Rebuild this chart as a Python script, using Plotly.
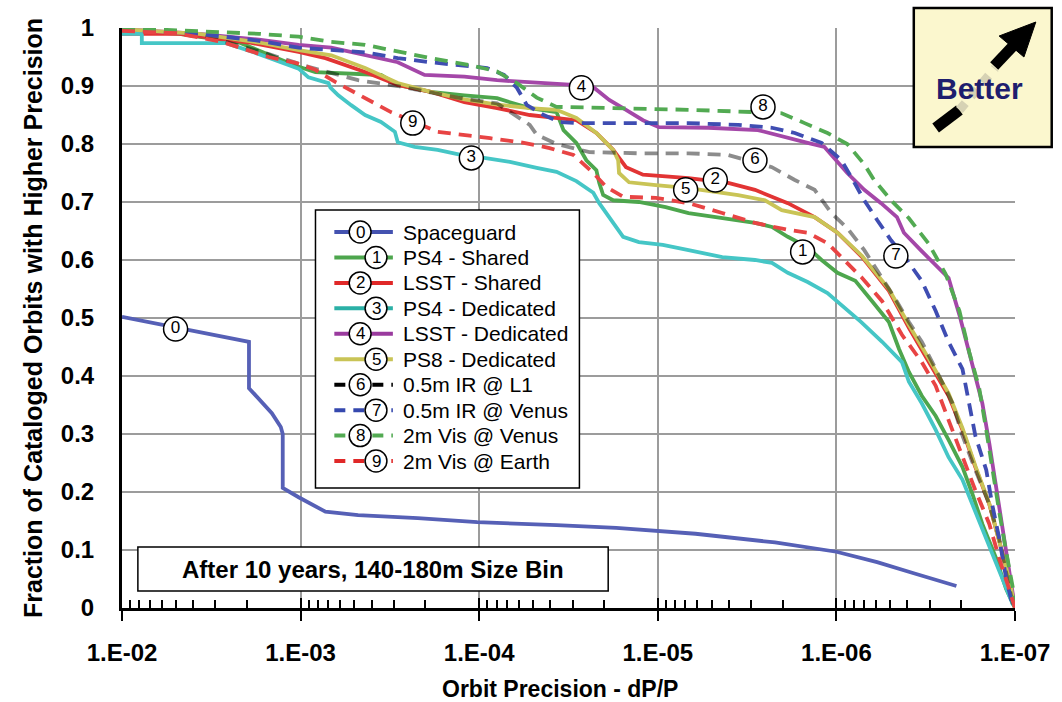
import plotly.graph_objects as go

FONT = "Liberation Sans, Arial, sans-serif"

# ---------------- data (x given as log10 of dP/P, y = fraction) ----------------
s0_lx = [-2.0, -2.228, -2.45, -2.711, -2.711, -2.839, -2.889, -2.9, -2.9, -2.989, -3.139, -3.322,
         -3.656, -3.989, -4.433, -4.767, -5.211, -5.656, -6.0, -6.228, -6.433, -6.672]
s0_y = [0.502, 0.488, 0.476, 0.459, 0.379, 0.336, 0.312, 0.300, 0.207, 0.191, 0.166, 0.160,
        0.155, 0.148, 0.143, 0.138, 0.128, 0.113, 0.097, 0.079, 0.060, 0.038]

s1_lx = [-2.0, -2.322, -2.656, -2.972, -3.083, -3.45, -3.544, -3.728, -3.917, -4.1, -4.172, -4.283,
         -4.433, -4.472, -4.544, -4.6, -4.656, -4.672, -4.694, -4.75, -4.894, -5.044, -5.172, -5.361,
         -5.544, -5.639, -5.728, -5.839, -5.917, -6.006, -6.106, -6.2, -6.294, -6.35, -6.406, -6.478,
         -6.556, -6.628, -6.706, -6.761, -6.817, -6.894, -6.95, -7.0]
s1_y = [0.995, 0.99, 0.975, 0.935, 0.924, 0.919, 0.902, 0.89, 0.884, 0.879, 0.872, 0.862,
        0.855, 0.824, 0.802, 0.772, 0.755, 0.733, 0.712, 0.703, 0.70, 0.691, 0.681, 0.672,
        0.664, 0.657, 0.64, 0.622, 0.60, 0.578, 0.564, 0.529, 0.493, 0.447, 0.407, 0.366,
        0.331, 0.29, 0.243, 0.197, 0.145, 0.086, 0.033, 0.0]

s2_lx = [-2.0, -2.322, -2.711, -2.989, -3.139, -3.361, -3.544, -3.728, -3.917, -4.1, -4.283, -4.433,
         -4.544, -4.656, -4.75, -4.822, -4.917, -5.172, -5.394, -5.544, -5.728, -5.878, -6.006, -6.144,
         -6.294, -6.406, -6.517, -6.628, -6.706, -6.778, -6.856, -6.911, -6.967, -7.0]
s2_y = [0.99, 0.99, 0.975, 0.959, 0.948, 0.924, 0.902, 0.89, 0.872, 0.862, 0.85, 0.845,
        0.841, 0.819, 0.79, 0.76, 0.747, 0.741, 0.733, 0.721, 0.698, 0.674, 0.647, 0.605,
        0.547, 0.483, 0.424, 0.366, 0.307, 0.243, 0.179, 0.116, 0.052, 0.0]

s3_lx = [-2.0, -2.111, -2.111, -2.583, -2.767, -2.989, -3.044, -3.156, -3.167, -3.211, -3.283, -3.361,
         -3.45, -3.528, -3.544, -3.639, -3.767, -3.861, -3.95, -4.028, -4.172, -4.322, -4.433, -4.544,
         -4.639, -4.672, -4.728, -4.806, -4.894, -5.028, -5.172, -5.361, -5.544, -5.639, -5.728, -5.839,
         -5.95, -6.044, -6.139, -6.256, -6.367, -6.406, -6.478, -6.556, -6.628, -6.706, -6.778, -6.856,
         -6.928, -6.989]
s3_y = [0.99, 0.99, 0.974, 0.974, 0.955, 0.93, 0.915, 0.905, 0.897, 0.884, 0.867, 0.85,
        0.838, 0.821, 0.803, 0.795, 0.79, 0.784, 0.778, 0.776, 0.769, 0.759, 0.752, 0.736,
        0.716, 0.698, 0.674, 0.64, 0.631, 0.626, 0.617, 0.605, 0.60, 0.595, 0.578, 0.562,
        0.543, 0.519, 0.493, 0.459, 0.424, 0.39, 0.353, 0.307, 0.26, 0.221, 0.167, 0.109,
        0.052, 0.005]

s4_lx = [-2.0, -2.433, -2.767, -2.989, -3.172, -3.361, -3.544, -3.694, -3.917, -4.1, -4.283, -4.528,
         -4.639, -4.728, -4.822, -4.917, -5.006, -5.283, -5.561, -5.656, -5.839, -5.933, -5.989, -6.061,
         -6.156, -6.25, -6.339, -6.378, -6.472, -6.544, -6.628, -6.689, -6.761, -6.817, -6.856, -6.894,
         -6.928, -6.967, -7.0]
s4_y = [0.998, 0.99, 0.98, 0.971, 0.966, 0.953, 0.941, 0.919, 0.916, 0.91, 0.907, 0.902,
        0.898, 0.876, 0.859, 0.841, 0.829, 0.828, 0.824, 0.816, 0.802, 0.795, 0.775, 0.75,
        0.721, 0.698, 0.674, 0.647, 0.617, 0.595, 0.569, 0.505, 0.417, 0.353, 0.284, 0.209,
        0.145, 0.074, 0.0]

s5_lx = [-2.0, -2.433, -2.767, -2.989, -3.172, -3.361, -3.544, -3.728, -3.917, -4.1, -4.283, -4.433,
         -4.544, -4.656, -4.75, -4.778, -4.783, -4.839, -4.989, -5.172, -5.45, -5.6, -5.694, -5.878,
         -6.006, -6.144, -6.294, -6.406, -6.517, -6.628, -6.706, -6.778, -6.856, -6.911, -6.967, -7.0]
s5_y = [0.998, 0.99, 0.975, 0.962, 0.953, 0.931, 0.905, 0.89, 0.877, 0.868, 0.862, 0.859,
        0.845, 0.819, 0.79, 0.772, 0.75, 0.734, 0.729, 0.724, 0.712, 0.703, 0.686, 0.674,
        0.647, 0.607, 0.55, 0.488, 0.43, 0.37, 0.31, 0.245, 0.18, 0.118, 0.05, 0.0]

s6_lx = [-2.0, -2.433, -2.583, -2.822, -3.044, -3.322, -3.544, -3.878, -4.1, -4.172, -4.283, -4.322,
         -4.433, -4.617, -4.894, -5.172, -5.394, -5.639, -5.767, -5.878, -5.972, -6.061, -6.156, -6.256,
         -6.328, -6.406, -6.478, -6.556, -6.65, -6.706, -6.778, -6.856, -6.911, -6.95, -6.989]
s6_y = [0.998, 0.99, 0.976, 0.955, 0.933, 0.91, 0.90, 0.88, 0.87, 0.855, 0.833, 0.816,
        0.80, 0.786, 0.784, 0.784, 0.781, 0.76, 0.738, 0.721, 0.681, 0.655, 0.617, 0.569,
        0.534, 0.493, 0.459, 0.412, 0.353, 0.297, 0.238, 0.179, 0.121, 0.062, 0.005]

s7_lx = [-2.0, -2.433, -2.767, -2.989, -3.361, -3.544, -3.728, -3.917, -4.044, -4.139, -4.211, -4.267,
         -4.361, -4.45, -4.544, -5.172, -5.45, -5.639, -5.767, -5.917, -6.028, -6.083, -6.156, -6.228,
         -6.306, -6.383, -6.478, -6.556, -6.628, -6.706, -6.744, -6.778, -6.839, -6.872, -6.911, -6.95,
         -6.989]
s7_y = [0.998, 0.99, 0.978, 0.966, 0.958, 0.948, 0.941, 0.936, 0.931, 0.919, 0.897, 0.867,
        0.85, 0.838, 0.836, 0.836, 0.833, 0.828, 0.819, 0.802, 0.772, 0.743, 0.703, 0.669,
        0.634, 0.605, 0.564, 0.512, 0.459, 0.412, 0.353, 0.297, 0.238, 0.179, 0.121, 0.052,
        0.0]

s8_lx = [-2.0, -2.433, -2.767, -2.989, -3.172, -3.361, -3.544, -3.728, -3.95, -4.1, -4.211, -4.322,
         -4.433, -4.806, -5.172, -5.544, -5.694, -5.822, -5.95, -6.061, -6.156, -6.211, -6.306, -6.406,
         -6.517, -6.611, -6.689, -6.744, -6.8, -6.839, -6.872, -6.911, -6.95, -6.989, -7.0]
s8_y = [1.0, 0.995, 0.99, 0.985, 0.976, 0.971, 0.959, 0.948, 0.936, 0.925, 0.905, 0.88,
        0.864, 0.862, 0.859, 0.855, 0.853, 0.836, 0.819, 0.80, 0.765, 0.738, 0.703, 0.672,
        0.628, 0.576, 0.512, 0.441, 0.378, 0.307, 0.238, 0.167, 0.098, 0.033, 0.0]

s9_lx = [-2.0, -2.306, -2.561, -2.711, -2.822, -2.972, -3.083, -3.194, -3.306, -3.417, -3.506, -3.767,
         -3.917, -4.061, -4.25, -4.394, -4.528, -4.639, -4.711, -4.806, -4.989, -5.172, -5.361, -5.544,
         -5.728, -5.839, -5.95, -6.028, -6.144, -6.256, -6.367, -6.478, -6.556, -6.628, -6.706, -6.778,
         -6.856, -6.911, -6.967, -7.0]
s9_y = [0.995, 0.991, 0.976, 0.962, 0.95, 0.94, 0.928, 0.907, 0.888, 0.871, 0.855, 0.821,
        0.816, 0.81, 0.802, 0.793, 0.781, 0.75, 0.726, 0.709, 0.707, 0.698, 0.681, 0.664,
        0.652, 0.647, 0.629, 0.605, 0.569, 0.529, 0.471, 0.424, 0.383, 0.324, 0.26, 0.203,
        0.145, 0.086, 0.033, 0.0]

series_names = ["Spaceguard", "PS4 - Shared", "LSST - Shared", "PS4 - Dedicated", "LSST - Dedicated",
                "PS8 - Dedicated", "0.5m IR @ L1", "0.5m IR @ Venus", "2m Vis @ Venus", "2m Vis @ Earth"]
series_lx = [s0_lx, s1_lx, s2_lx, s3_lx, s4_lx, s5_lx, s6_lx, s7_lx, s8_lx, s9_lx]
series_y = [s0_y, s1_y, s2_y, s3_y, s4_y, s5_y, s6_y, s7_y, s8_y, s9_y]

# circled-number labels on the curves
label_txt = ["0", "1", "2", "3", "4", "5", "6", "7", "8", "9"]
label_lx = [-2.30, -5.811, -5.322, -3.956, -4.572, -5.156, -5.544, -6.333, -5.589, -3.628]
label_y = [0.481, 0.614, 0.738, 0.776, 0.897, 0.721, 0.772, 0.607, 0.864, 0.836]

x_tick_vals = [1e-2, 1e-3, 1e-4, 1e-5, 1e-6, 1e-7]
x_tick_text = ["1.E-02", "1.E-03", "1.E-04", "1.E-05", "1.E-06", "1.E-07"]
y_tick_vals = [0, 0.1, 0.2, 0.3, 0.4, 0.5, 0.6, 0.7, 0.8, 0.9, 1]
y_tick_text = ["0", "0.1", "0.2", "0.3", "0.4", "0.5", "0.6", "0.7", "0.8", "0.9", "1"]

# ---------------- styles ----------------
line_colors = ["#5660B6", "#4DA64D", "#E23434", "#45C6C6", "#A447A8", "#C9C456",
               "rgba(0,0,0,0.45)", "#3F4DB2", "#52AA52", "#E84444"]
legend_colors = ["#4452B0", "#4DA64D", "#E02828", "#2BB0A6", "#9A3A9E", "#C9C456",
                 "#000000", "#3548AE", "#52AA52", "#E02828"]
dashes = [None, None, None, None, None, None, "13px,8px", "13px,8px", "13px,8px", "13px,8px"]

W, H = 1062, 702
ML, MR, MT, MB = 122, 40, 28, 94
PW, PH = W - ML - MR, H - MT - MB


def px(x):
    return (x - ML) / PW


def py(y):
    return (H - MB - y) / PH


fig = go.Figure()

for i in range(10):
    fig.add_trace(go.Scatter(
        x=[10 ** v for v in series_lx[i]], y=series_y[i], mode="lines", name=series_names[i],
        line=dict(color=line_colors[i], width=3.8, dash=dashes[i]),
        showlegend=False, hoverinfo="skip"))

fig.add_trace(go.Scatter(
    x=[10 ** v for v in label_lx], y=label_y, mode="markers+text", text=label_txt,
    textposition="middle center",
    textfont=dict(family=FONT, size=17, color="black"),
    marker=dict(symbol="circle", size=24, color="white", line=dict(color="black", width=1.5)),
    showlegend=False, hoverinfo="skip"))

# helper trace for the upper half of the major x ticks
fig.add_trace(go.Scatter(x=[1e-2], y=[0], xaxis="x2", mode="markers",
                         marker=dict(opacity=0), showlegend=False, hoverinfo="skip"))

minor_vals = [m * 10 ** e for e in range(-7, -2) for m in range(2, 10)]

fig.update_layout(
    width=W, height=H, margin=dict(l=ML, r=MR, t=MT, b=MB),
    paper_bgcolor="white", plot_bgcolor="white",
    font=dict(family=FONT, color="black"),
    xaxis=dict(
        type="log", range=[-2, -7], tickmode="array", tickvals=x_tick_vals, ticktext=x_tick_text,
        ticks="outside", ticklen=10, tickwidth=2, tickcolor="black",
        showline=True, linecolor="black", linewidth=3, mirror=False,
        showgrid=True, gridcolor="#9c9c9c", gridwidth=1.5, zeroline=False,
        tickfont=dict(family=FONT, size=24, color="black", weight="bold"),
        ticklabelstandoff=11,
        minor=dict(tickmode="array", tickvals=minor_vals, ticks="inside", ticklen=8, tickwidth=1.5,
                   tickcolor="black", showgrid=False),
    ),
    xaxis2=dict(
        type="log", range=[-2, -7], overlaying="x", anchor="y", side="bottom",
        tickmode="array", tickvals=x_tick_vals, ticks="inside", ticklen=10, tickwidth=2,
        tickcolor="black", showticklabels=False, showgrid=False, showline=False, zeroline=False,
    ),
    yaxis=dict(
        range=[0, 1], tickmode="array", tickvals=y_tick_vals, ticktext=y_tick_text, ticks="",
        showline=True, linecolor="black", linewidth=3,
        showgrid=True, gridcolor="#9c9c9c", gridwidth=1.5, zeroline=False,
        tickfont=dict(family=FONT, size=24, color="black", weight="bold"),
        ticklabelstandoff=20,
        title=dict(text="Fraction of Cataloged Orbits with Higher Precision", standoff=12,
                   font=dict(family=FONT, size=25, color="black", weight="bold")),
    ),
)

shapes = []
annotations = []

# x-axis title
annotations.append(dict(xref="paper", yref="paper", x=px(563), y=py(689), text="Orbit Precision - dP/P",
                        showarrow=False, font=dict(family=FONT, size=23, color="black", weight="bold"),
                        xanchor="center", yanchor="middle"))

# ---- legend box ----
shapes.append(dict(type="rect", xref="paper", yref="paper", x0=px(317), x1=px(583), y0=py(210), y1=py(488),
                   line=dict(color="black", width=1.5), fillcolor="white", layer="above"))
for i in range(10):
    yy = 232 + 25.45 * i
    shapes.append(dict(type="line", xref="paper", yref="paper", x0=px(336), x1=px(395), y0=py(yy), y1=py(yy),
                       line=dict(color=legend_colors[i], width=4, dash="11px,8px" if dashes[i] else None),
                       layer="above"))
    cx = 362 if i % 2 == 0 else 378
    shapes.append(dict(type="circle", xref="paper", yref="paper", x0=px(cx - 11), x1=px(cx + 11),
                       y0=py(yy + 11), y1=py(yy - 11), line=dict(color="black", width=1.5),
                       fillcolor="white", layer="above"))
    annotations.append(dict(xref="paper", yref="paper", x=px(cx), y=py(yy), text=label_txt[i],
                            showarrow=False, font=dict(family=FONT, size=17, color="black"),
                            xanchor="center", yanchor="middle"))
    annotations.append(dict(xref="paper", yref="paper", x=px(403), y=py(yy), text=series_names[i],
                            showarrow=False, font=dict(family=FONT, size=21, color="black"),
                            xanchor="left", yanchor="middle"))

# ---- "After 10 years" box ----
shapes.append(dict(type="rect", xref="paper", yref="paper", x0=px(138), x1=px(612), y0=py(547), y1=py(591),
                   line=dict(color="black", width=1.5), fillcolor="white", layer="above"))
annotations.append(dict(xref="paper", yref="paper", x=px(375), y=py(569),
                        text="After 10 years, 140-180m Size Bin", showarrow=False,
                        font=dict(family=FONT, size=24, color="black", weight="bold"),
                        xanchor="center", yanchor="middle"))

# ---- "Better" box with arrow ----
shapes.append(dict(type="rect", xref="paper", yref="paper", x0=px(920), x1=px(1059), y0=py(147), y1=py(8),
                   line=dict(color="black", width=2.5), fillcolor="#FBF7CE", layer="above"))
shapes.append(dict(type="line", xref="paper", yref="paper", x0=px(942), y0=py(128), x1=px(966), y1=py(110),
                   line=dict(color="black", width=11), layer="above"))
shapes.append(dict(type="line", xref="paper", yref="paper", x0=px(966), y0=py(110), x1=px(1002), y1=py(68),
                   line=dict(color="#d6d2b4", width=9, dash="dot"), layer="above"))
shapes.append(dict(type="line", xref="paper", yref="paper", x0=px(1001), y0=py(66), x1=px(1021), y1=py(45),
                   line=dict(color="black", width=11), layer="above"))
shapes.append(dict(type="path", xref="paper", yref="paper",
                   path="M {},{} L {},{} L {},{} Z".format(px(1043), py(22), px(1006), py(36), px(1031), py(57)),
                   line=dict(color="black", width=1), fillcolor="black", layer="above"))
annotations.append(dict(xref="paper", yref="paper", x=px(986), y=py(88), text="Better", showarrow=False,
                        font=dict(family=FONT, size=30, color="#1E1E6E", weight="bold"),
                        xanchor="center", yanchor="middle"))

fig.update_layout(shapes=shapes, annotations=annotations)

fig.write_html("out.html")
